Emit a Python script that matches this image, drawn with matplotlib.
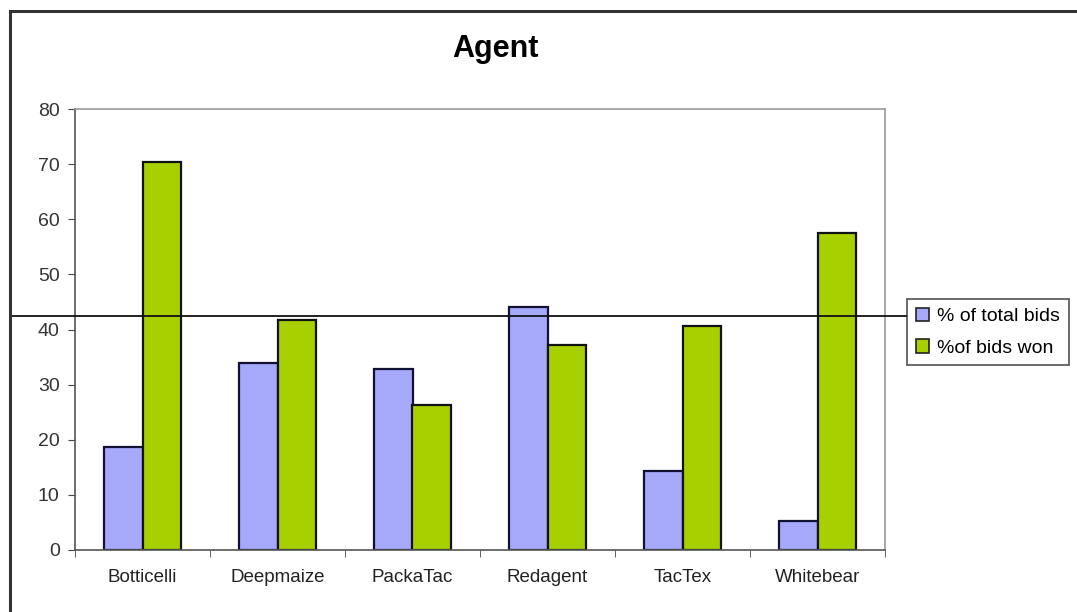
import matplotlib
matplotlib.use('Agg')
import matplotlib.pyplot as plt
from matplotlib.lines import Line2D
from matplotlib.patches import Patch
import numpy as np

plt.rcParams['font.family'] = ['Liberation Sans', 'DejaVu Sans']

agents = ['Botticelli', 'Deepmaize', 'PackaTac', 'Redagent', 'TacTex', 'Whitebear']
total_bids = [18.7, 34.0, 32.8, 44.1, 14.4, 5.3]
bids_won = [70.3, 41.7, 26.3, 37.2, 40.7, 57.5]
ref_level = 42.5

blue = '#a6a8fa'
green = '#a8d000'

fig = plt.figure(figsize=(10.77, 6.12), dpi=100)
fig.patch.set_facecolor('white')
ax = fig.add_axes([75 / 1077, 1 - 550 / 612, 810 / 1077, 441 / 612])

x = np.arange(len(agents))
w = 0.286
ax.bar(x - w / 2, total_bids, w, color=blue, edgecolor='#111133', linewidth=1.6)
ax.bar(x + w / 2, bids_won, w, color=green, edgecolor='#111111', linewidth=1.6)

ax.set_xlim(-0.5, len(agents) - 0.5)
ax.set_ylim(0, 80)
ax.set_yticks(range(0, 81, 10))
ax.set_xticks(x)
ax.set_xticklabels(agents)
ax.set_xticks(np.arange(-0.5, len(agents), 1), minor=True)
ax.tick_params(axis='x', which='major', length=0, pad=14, labelsize=13.5, colors='#222222')
ax.tick_params(axis='x', which='minor', length=5, direction='out', color='#444444')
ax.tick_params(axis='y', length=5, direction='out', labelsize=14, pad=6,
               colors='#333333', color='#444444')

for side in ('top', 'right'):
    ax.spines[side].set_color('#999999')
    ax.spines[side].set_linewidth(1.2)
for side in ('left', 'bottom'):
    ax.spines[side].set_color('#555555')
    ax.spines[side].set_linewidth(1.2)

# reference line running across the whole chart up to the legend
ax.axhline(ref_level, xmin=(10 - 75) / 810, xmax=(907 - 75) / 810,
           color='#111111', linewidth=1.3, clip_on=False, zorder=5)

fig.text(495 / 1077, 1 - 49 / 612, 'Agent', ha='center', va='center',
         fontsize=22, fontweight='bold')

handles = [Patch(facecolor=blue, edgecolor='#222222', linewidth=1.2),
           Patch(facecolor=green, edgecolor='#222222', linewidth=1.2)]
leg = fig.legend(handles, ['% of total bids', '%of bids won'],
                 loc='upper left', bbox_to_anchor=(907 / 1077, 1 - 299 / 612),
                 frameon=True, fancybox=False, fontsize=14,
                 handlelength=0.7, handleheight=0.7, handletextpad=0.4,
                 borderpad=0.45, labelspacing=0.7, borderaxespad=0)
leg.get_frame().set_edgecolor('#222222')
leg.get_frame().set_linewidth(1.2)

# chart frame: only left and top edges fall inside the image
fig.add_artist(Line2D([10 / 1077, 10 / 1077], [0, 1 - 11 / 612],
                      transform=fig.transFigure, color='#333333', linewidth=2.2))
fig.add_artist(Line2D([10 / 1077, 1], [1 - 11 / 612, 1 - 11 / 612],
                      transform=fig.transFigure, color='#333333', linewidth=2.2))

fig.savefig('out.png', dpi=100, facecolor='white')
plt.close(fig)
